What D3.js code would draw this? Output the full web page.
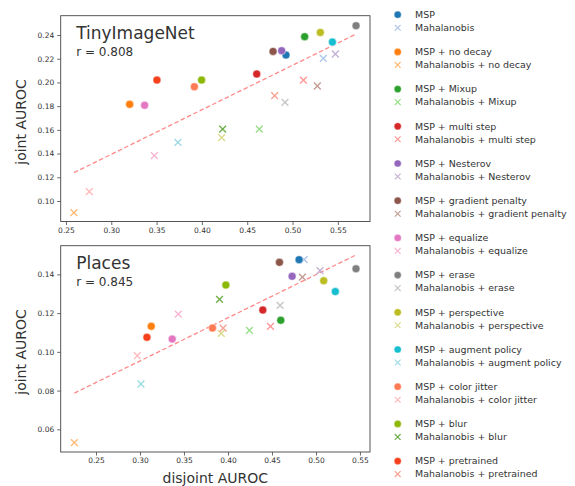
<!DOCTYPE html>
<html>
<head>
<meta charset="utf-8">
<script src="https://cdn.jsdelivr.net/npm/d3@7"></script>
<style>
  html, body { margin: 0; padding: 0; background: #fff; }
  svg { display: block; font-family: "DejaVu Sans", sans-serif; }
</style>
</head>
<body>
<svg id="chart" width="575" height="486"></svg>
<script>
// ---------- data ----------
const variants = ["", "no decay", "Mixup", "multi step", "Nesterov", "gradient penalty",
  "equalize", "erase", "perspective", "augment policy", "color jitter", "blur", "pretrained"];

const mspColors = ["#1f77b4", "#ff7f0e", "#2ca02c", "#d62728", "#9467bd", "#8c564b",
  "#e377c2", "#7f7f7f", "#bcbd22", "#17becf", "#ff7a52", "#8cb806", "#f5401c"];
const mahaColors = ["#aec7e8", "#ffbb78", "#98df8a", "#ff9896", "#c5b0d5", "#c49c94",
  "#f7b6d2", "#c7c7c7", "#dbdb8d", "#9edae5", "#ffb8bc", "#70b04a", "#f7a090"];

// TinyImageNet
const tinyMspX  = [0.4928, 0.3203, 0.5134, 0.4605, 0.4880, 0.4785, 0.3368, 0.5701, 0.5307, 0.5440, 0.3917, 0.3997, 0.3504];
const tinyMspY  = [0.2231, 0.1815, 0.2386, 0.2071, 0.2268, 0.2262, 0.1807, 0.2479, 0.2422, 0.2341, 0.1964, 0.2020, 0.2020];
const tinyMahaX = [0.5340, 0.2588, 0.4634, 0.5120, 0.5473, 0.5274, 0.3475, 0.4917, 0.4218, 0.3736, 0.2758, 0.4229, 0.4803];
const tinyMahaY = [0.2203, 0.0902, 0.1607, 0.2020, 0.2240, 0.1970, 0.1382, 0.1832, 0.1534, 0.1495, 0.1079, 0.1607, 0.1888];
const tinyTrendX = [0.2588, 0.5701];
const tinyTrendY = [0.1239, 0.2408];
const tinyR = "0.808";

// Places
const placesMspX  = [0.4808, 0.3128, 0.4600, 0.4396, 0.4729, 0.4585, 0.3366, 0.5455, 0.5088, 0.5220, 0.3824, 0.3976, 0.3079];
const placesMspY  = [0.1476, 0.1132, 0.1163, 0.1216, 0.1390, 0.1462, 0.1066, 0.1429, 0.1367, 0.1311, 0.1123, 0.1345, 0.1075];
const placesMahaX = [0.4865, 0.2254, 0.4244, 0.4483, 0.5046, 0.4846, 0.3435, 0.4592, 0.3923, 0.3011, 0.2969, 0.3904, 0.3945];
const placesMahaY = [0.1476, 0.0531, 0.1111, 0.1132, 0.1419, 0.1386, 0.1195, 0.1240, 0.1095, 0.0834, 0.0980, 0.1271, 0.1123];
const placesTrendX = [0.2254, 0.5455];
const placesTrendY = [0.0787, 0.1500];
const placesR = "0.845";

const xTicks = [0.25, 0.30, 0.35, 0.40, 0.45, 0.50, 0.55];
const tinyYTicks = [0.10, 0.12, 0.14, 0.16, 0.18, 0.20, 0.22, 0.24];
const placesYTicks = [0.06, 0.08, 0.10, 0.12, 0.14];

// ---------- drawing ----------
const svg = d3.select("#chart");
const textColor = "#333";
const spineColor = "#444";

function xMarkPath(s) {
  return `M${-s},${-s}L${s},${s}M${-s},${s}L${s},${-s}`;
}

function panel(cfg) {
  const x = d3.scaleLinear().domain(cfg.xDomain).range([cfg.left, cfg.right]);
  const y = d3.scaleLinear().domain(cfg.yDomain).range([cfg.bottom, cfg.top]);
  const g = svg.append("g");

  // axes
  const xAxis = d3.axisBottom(x).tickValues(xTicks).tickFormat(d3.format(".2f")).tickSize(3.5).tickPadding(2.5);
  const yAxis = d3.axisLeft(y).tickValues(cfg.yTicks).tickFormat(d3.format(".2f")).tickSize(3.5).tickPadding(3);
  const gx = g.append("g").attr("transform", `translate(0,${cfg.bottom})`).call(xAxis);
  const gy = g.append("g").attr("transform", `translate(${cfg.left},0)`).call(yAxis);
  [gx, gy].forEach(a => {
    a.select(".domain").remove();
    a.selectAll(".tick line").attr("stroke", spineColor).attr("stroke-width", 0.8);
    a.selectAll(".tick text").attr("fill", textColor).style("font-size", "7.5px")
      .style("font-family", "DejaVu Sans, sans-serif");
  });

  // frame
  g.append("rect").attr("x", cfg.left).attr("y", cfg.top)
    .attr("width", cfg.right - cfg.left).attr("height", cfg.bottom - cfg.top)
    .attr("fill", "none").attr("stroke", spineColor).attr("stroke-width", 0.9);

  // trend line
  g.append("line")
    .attr("x1", x(cfg.trendX[0])).attr("y1", y(cfg.trendY[0]))
    .attr("x2", x(cfg.trendX[1])).attr("y2", y(cfg.trendY[1]))
    .attr("stroke", "#ff8a8a").attr("stroke-width", 1.3)
    .attr("stroke-dasharray", "4.5,2.5");

  // Mahalanobis x markers
  const maha = variants.map((v, i) => ({ x: cfg.mahaX[i], y: cfg.mahaY[i], c: mahaColors[i] }));
  g.selectAll("path.maha").data(maha).enter().append("path")
    .attr("class", "maha")
    .attr("transform", d => `translate(${x(d.x)},${y(d.y)})`)
    .attr("d", xMarkPath(3.4))
    .attr("stroke", d => d.c).attr("stroke-width", 1.4).attr("fill", "none");

  // MSP circles
  const msp = variants.map((v, i) => ({ x: cfg.mspX[i], y: cfg.mspY[i], c: mspColors[i] }));
  g.selectAll("circle.msp").data(msp).enter().append("circle")
    .attr("class", "msp")
    .attr("cx", d => x(d.x)).attr("cy", d => y(d.y)).attr("r", 4)
    .attr("fill", d => d.c).attr("stroke", "#fff").attr("stroke-width", 0.5);

  // titles
  g.append("text").attr("x", cfg.left + 15.5).attr("y", cfg.top + 23.5)
    .attr("fill", textColor).style("font-size", "17px").text(cfg.title);
  g.append("text").attr("x", cfg.left + 15.5).attr("y", cfg.top + 40.5)
    .attr("fill", textColor).style("font-size", "12px").text("r = " + cfg.r);

  // y label
  g.append("text")
    .attr("transform", `translate(25.5,${cfg.ylabelY}) rotate(-90)`)
    .attr("text-anchor", "middle").attr("fill", textColor)
    .style("font-size", "14px").text("joint AUROC");
}

panel({
  left: 60.7, right: 370, top: 15.7, bottom: 221.5,
  xDomain: [0.2442, 0.5855], yDomain: [0.0827, 0.2563],
  yTicks: tinyYTicks, mspX: tinyMspX, mspY: tinyMspY, mahaX: tinyMahaX, mahaY: tinyMahaY,
  trendX: tinyTrendX, trendY: tinyTrendY, title: "TinyImageNet", r: tinyR, ylabelY: 122
});

panel({
  left: 60.7, right: 370, top: 245.7, bottom: 452,
  xDomain: [0.2099, 0.5614], yDomain: [0.0483, 0.1548],
  yTicks: placesYTicks, mspX: placesMspX, mspY: placesMspY, mahaX: placesMahaX, mahaY: placesMahaY,
  trendX: placesTrendX, trendY: placesTrendY, title: "Places", r: placesR, ylabelY: 352
});

// x label
svg.append("text").attr("x", 215.3).attr("y", 482.5).attr("text-anchor", "middle")
  .attr("fill", textColor).style("font-size", "14px").text("disjoint AUROC");

// legend
const lg = svg.append("g");
const legX = 397.7, legTextX = 415, legY0 = 14.7, groupStep = 37.2, rowStep = 13;
variants.forEach((v, i) => {
  const yy = legY0 + i * groupStep;
  const suffix = v ? " + " + v : "";
  lg.append("circle").attr("cx", legX).attr("cy", yy).attr("r", 3.6)
    .attr("fill", mspColors[i]).attr("stroke", "#fff").attr("stroke-width", 0.4);
  lg.append("text").attr("x", legTextX).attr("y", yy).attr("dy", "0.35em")
    .attr("fill", textColor).style("font-size", "9.45px").text("MSP" + suffix);
  lg.append("path").attr("transform", `translate(${legX},${yy + rowStep})`)
    .attr("d", xMarkPath(2.9)).attr("stroke", mahaColors[i]).attr("stroke-width", 1.2).attr("fill", "none");
  lg.append("text").attr("x", legTextX).attr("y", yy + rowStep).attr("dy", "0.35em")
    .attr("fill", textColor).style("font-size", "9.45px").text("Mahalanobis" + suffix);
});
</script>
</body>
</html>
